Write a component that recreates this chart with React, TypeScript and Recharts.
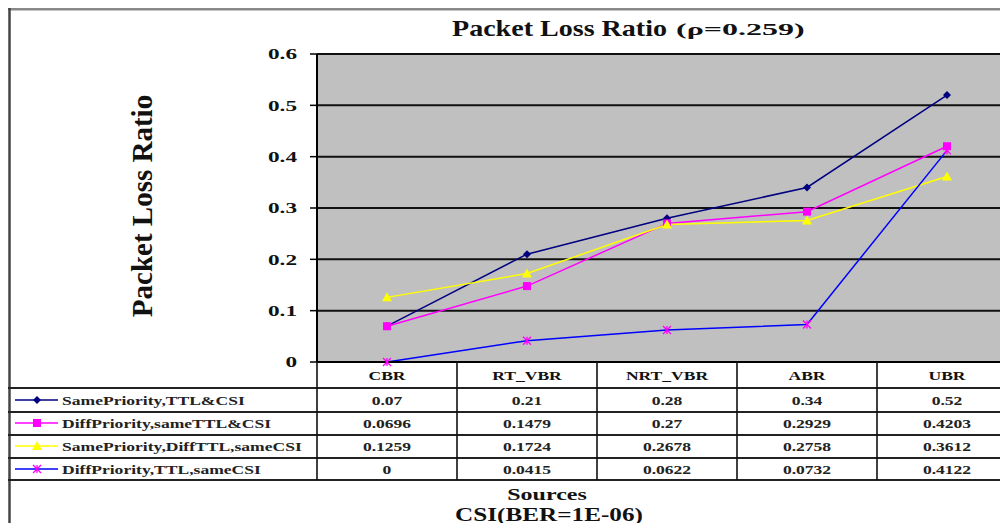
import { LineChart, Line, XAxis, YAxis, CartesianGrid } from 'recharts';

const categories = ['CBR', 'RT_VBR', 'NRT_VBR', 'ABR', 'UBR'];
const samePriorityTtlCsi = [0.07, 0.21, 0.28, 0.34, 0.52];
const diffPrioritySameTtlCsi = [0.0696, 0.1479, 0.27, 0.2929, 0.4203];
const samePriorityDiffTtl = [0.1259, 0.1724, 0.2678, 0.2758, 0.3612];
const diffPriorityTtl = [0, 0.0415, 0.0622, 0.0732, 0.4122];
const yTicks = [0, 0.1, 0.2, 0.3, 0.4, 0.5, 0.6];

const series = [
  { key: 's1', name: 'SamePriority,TTL&CSI', values: samePriorityTtlCsi, line: '#000080', mark: '#000080', kind: 'diamond' },
  { key: 's2', name: 'DiffPriority,sameTTL&CSI', values: diffPrioritySameTtlCsi, line: '#FF00FF', mark: '#FF00FF', kind: 'square' },
  { key: 's3', name: 'SamePriority,DiffTTL,sameCSI', values: samePriorityDiffTtl, line: '#FFFF00', mark: '#FFFF00', kind: 'triangle' },
  { key: 's4', name: 'DiffPriority,TTL,sameCSI', values: diffPriorityTtl, line: '#0000FF', mark: '#FF00FF', kind: 'x' },
];

const data = categories.map((name, i) => {
  const row: any = { name };
  series.forEach((s) => { row[s.key] = s.values[i]; });
  return row;
});

const SERIF = '"Liberation Serif", "Times New Roman", serif';

// table geometry (container coords)
const plotLeft = 309;
const colWidth = 140;
const rowLines = [380, 404, 427, 450, 472];
const rowBaselines = [397, 420, 443, 466];

function Marker({ kind, cx, cy, color }: any) {
  if (cx == null || cy == null) return null;
  if (kind === 'diamond') {
    return <path d={`M${cx},${cy - 4}L${cx + 4},${cy}L${cx},${cy + 4}L${cx - 4},${cy}Z`} fill={color} />;
  }
  if (kind === 'square') {
    return <rect x={cx - 4} y={cy - 4} width={8} height={8} fill={color} />;
  }
  if (kind === 'triangle') {
    return <path d={`M${cx},${cy - 5}L${cx + 5},${cy + 4}L${cx - 5},${cy + 4}Z`} fill={color} />;
  }
  return (
    <path
      d={`M${cx - 4},${cy - 4}L${cx + 4},${cy + 4}M${cx - 4},${cy + 4}L${cx + 4},${cy - 4}M${cx},${cy - 4}L${cx},${cy + 4}`}
      stroke={color}
      strokeWidth={1.3}
      fill="none"
    />
  );
}

function YTick({ x, y, payload }: any) {
  return (
    <g transform={`translate(${x},${y}) scale(1.55,1)`}>
      <text textAnchor="end" dy="0.35em" fontSize={15} fontWeight="bold" fill="#111" fontFamily={SERIF}>
        {payload.value}
      </text>
    </g>
  );
}

function XTick({ x, payload }: any) {
  return (
    <g transform={`translate(${x},372) scale(1.35,1)`}>
      <text textAnchor="middle" fontSize={13} fontWeight="bold" fill="#111" fontFamily={SERIF}>
        {payload.value}
      </text>
    </g>
  );
}

function Overlay() {
  const dividers = categories.map((_, i) => plotLeft + colWidth * i);
  return (
    <svg width={1000} height={523} style={{ position: 'absolute', left: 0, top: 0, pointerEvents: 'none' }}>
      {/* frame */}
      <line x1={0} y1={1} x2={1000} y2={1} stroke="#888" strokeWidth={3} />
      <line x1={1.5} y1={0} x2={1.5} y2={523} stroke="#444" strokeWidth={2.5} />

      {/* title */}
      <g transform="translate(444,28) scale(1.22,1)">
        <text fontSize={23} fontWeight="bold" fill="#111" fontFamily={SERIF}>Packet Loss Ratio</text>
      </g>
      <g transform="translate(668,27) scale(2,1)">
        <text fontSize={16} fontWeight="bold" fill="#111" fontFamily={SERIF}>(ρ=0.259)</text>
      </g>

      {/* y axis label */}
      <g transform="translate(144,198) rotate(-90)">
        <text textAnchor="middle" fontSize={29} fontWeight="bold" fill="#111" fontFamily={SERIF}>Packet Loss Ratio</text>
      </g>

      {/* data table grid */}
      {rowLines.map((y) => (
        <line key={y} x1={0} y1={y} x2={1000} y2={y} stroke="#222" strokeWidth={2} />
      ))}
      {dividers.map((x) => (
        <line key={x} x1={x} y1={354} x2={x} y2={472} stroke="#111" strokeWidth={1.6} />
      ))}

      {series.map((s, r) => (
        <g key={s.key}>
          <line x1={7} y1={rowBaselines[r] - 5} x2={50} y2={rowBaselines[r] - 5} stroke={s.line} strokeWidth={1.5} />
          <Marker kind={s.kind} cx={29} cy={rowBaselines[r] - 5} color={s.mark} />
          <g transform={`translate(54,${rowBaselines[r]}) scale(1.35,1)`}>
            <text fontSize={13} fontWeight="bold" fill="#222" fontFamily={SERIF}>{s.name}</text>
          </g>
          {s.values.map((v, i) => (
            <g key={i} transform={`translate(${plotLeft + colWidth * i + colWidth / 2},${rowBaselines[r]}) scale(1.35,1)`}>
              <text textAnchor="middle" fontSize={13} fontWeight="bold" fill="#222" fontFamily={SERIF}>{String(v)}</text>
            </g>
          ))}
        </g>
      ))}

      {/* bottom captions */}
      <g transform="translate(539,492) scale(1.5,1)">
        <text textAnchor="middle" fontSize={16} fontWeight="bold" fill="#111" fontFamily={SERIF}>Sources</text>
      </g>
      <g transform="translate(541,513) scale(1.4,1)">
        <text textAnchor="middle" fontSize={18} fontWeight="bold" fill="#111" fontFamily={SERIF}>CSI(BER=1E-06)</text>
      </g>
    </svg>
  );
}

export default function App() {
  return (
    <div
      style={{
        position: 'relative',
        width: 1000,
        height: 523,
        marginBottom: -8,
        overflow: 'hidden',
        background: '#fff',
      }}
    >
      <style>{'html,body{overflow:hidden}'}</style>
      <LineChart width={1010} height={523} data={data} margin={{ top: 46, right: 1, left: 249, bottom: 139 }}>
        <CartesianGrid vertical={false} stroke="#111" strokeWidth={2} fill="#C0C0C0" fillOpacity={1} />
        <XAxis
          dataKey="name"
          padding={{ left: 70, right: 70 }}
          axisLine={{ stroke: '#000', strokeWidth: 2 }}
          tickLine={false}
          tick={<XTick />}
          height={30}
        />
        <YAxis
          domain={[0, 0.6]}
          ticks={yTicks}
          width={60}
          axisLine={{ stroke: '#000', strokeWidth: 2 }}
          tickLine={{ stroke: '#000', strokeWidth: 1.5 }}
          tickSize={7}
          tickMargin={13}
          tick={<YTick />}
        />
        {series.map((s) => (
          <Line
            key={s.key}
            dataKey={s.key}
            name={s.name}
            stroke={s.line}
            strokeWidth={1.5}
            isAnimationActive={false}
            dot={(p: any) => <Marker key={`${s.key}-${p.index}`} kind={s.kind} cx={p.cx} cy={p.cy} color={s.mark} />}
            activeDot={false}
          />
        ))}
      </LineChart>
      <Overlay />
    </div>
  );
}
